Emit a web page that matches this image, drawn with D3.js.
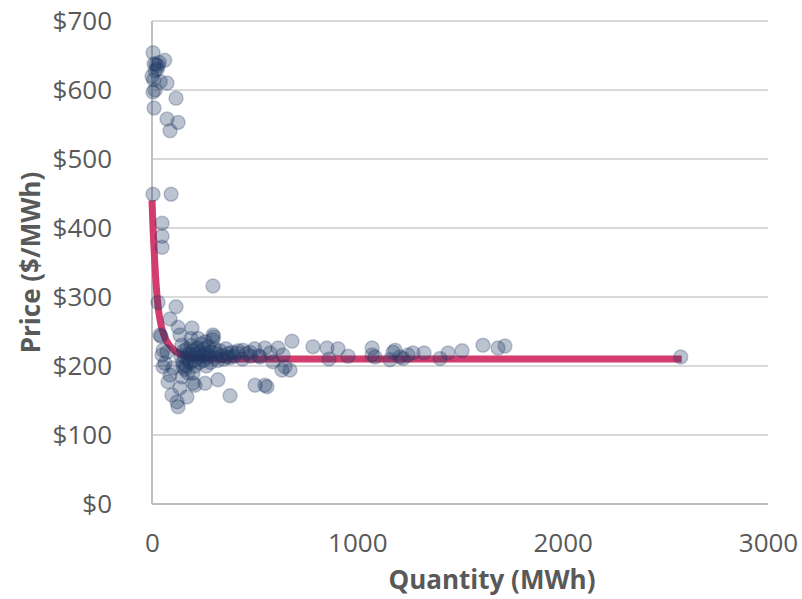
<!DOCTYPE html>
<html>
<head>
<meta charset="utf-8">
<script src="https://cdn.jsdelivr.net/npm/d3@7"></script>
<style>
  body { margin: 0; background: #ffffff; }
  svg { display: block; }
</style>
</head>
<body>
<div id="chart"></div>
<script>
// observed points, quantity (MWh)
const quantity = [
  5, 62, 10, 20, 30, 25, 15, 35, 0, 8, 40, 73, 15, 5, 117, 10, 73, 127, 88,
  5, 93, 49, 49, 49, 29, 117, 297,
  88, 127, 195, 136, 44, 297, 54, 49, 54, 102, 88, 78, 146, 136, 200, 258, 321,
  502, 550, 380, 97, 170, 122, 127, 209, 151, 39, 73, 63,
  140, 150, 155, 160, 165, 170, 175, 180, 185, 190, 195, 200, 205, 210, 215, 220,
  225, 230, 235, 240, 245, 250, 255, 260, 265, 270, 275, 280, 285, 290, 295, 300,
  305, 310, 315, 320, 330, 340, 350, 360, 370, 380, 390, 400, 420, 440, 460, 480,
  500, 520, 160, 175, 200, 145, 190, 225, 260,
  682, 550, 614, 575, 638, 589, 648, 672, 633, 560, 443, 477, 414, 365, 526,
  784, 852, 906, 955, 862, 1072, 1072, 1086, 1159, 1174, 1184, 1208, 1223, 1247,
  1271, 1325, 1403, 1442, 1510, 1612, 1685, 1719, 2575
]
// observed points, price ($/MWh)
const price = [
  654, 643, 638, 637, 635, 630, 628, 640, 620, 615, 612, 610, 600, 597, 588, 574, 558, 553, 541,
  449, 449, 407, 388, 372, 292, 286, 316,
  268, 256, 255, 245, 243, 245, 223, 216, 199, 197, 187, 177, 184, 168, 175, 175, 180,
  172, 172, 157, 158, 155, 148, 141, 172, 199, 245, 220, 204,
  215, 205, 222, 212, 200, 225, 210, 218, 205, 230, 215, 222, 208, 200, 218, 226,
  212, 205, 220, 232, 215, 208, 225, 218, 200, 212, 228, 215, 205, 220, 238, 242,
  225, 212, 218, 208, 222, 215, 210, 225, 218, 212, 220, 214, 222, 210, 218, 214,
  225, 215, 195, 190, 190, 230, 240, 240, 235,
  236, 226, 226, 219, 216, 206, 199, 194, 194, 170, 223, 220, 219, 213, 213,
  228, 226, 225, 214, 210, 226, 216, 213, 209, 220, 223, 213, 211, 216,
  219, 219, 211, 219, 222, 230, 226, 229, 213
]
// fitted curve
const fitQuantity = [0, 5, 10, 20, 30, 45, 60, 80, 100, 130, 170, 250, 400, 1000, 2580]
const fitPrice = [440, 400, 370, 318, 285, 258, 243, 232, 225, 218, 214, 211, 210, 210, 210]

const xTicks = [0, 1000, 2000, 3000]
const yTicks = [0, 100, 200, 300, 400, 500, 600, 700]

const WIDTH = 802
const HEIGHT = 599
const TEXT_COLOR = "#595959"
const GRID_COLOR = "#d9d9d9"
const AXIS_COLOR = "#bfbfbf"
const POINT_COLOR = "#1f3864"
const LINE_COLOR = "#d23d6d"
const FONT = "'Open Sans', sans-serif"

const plot = { left: 152, right: 768, top: 21, bottom: 504 }

const svg = d3.select("#chart").append("svg")
    .attr("width", WIDTH)
    .attr("height", HEIGHT)
    .style("background-color", "white")

const x = d3.scaleLinear().domain([0, 3000]).range([plot.left, plot.right])
const y = d3.scaleLinear().domain([0, 700]).range([plot.bottom, plot.top])

// horizontal gridlines
svg.append("g")
    .selectAll("line")
    .data(yTicks.filter(d => d > 0))
    .join("line")
    .attr("x1", plot.left)
    .attr("x2", plot.right)
    .attr("y1", d => y(d))
    .attr("y2", d => y(d))
    .attr("stroke", GRID_COLOR)
    .attr("stroke-width", 2)

// y axis (labels only, line drawn by hand below)
const yAxis = svg.append("g")
    .attr("transform", "translate(" + plot.left + ",0)")
    .call(d3.axisLeft(y).tickValues(yTicks).tickSize(0).tickPadding(40)
        .tickFormat(d => "$" + d))
yAxis.select(".domain").remove()
yAxis.selectAll("text")
    .attr("fill", TEXT_COLOR)
    .style("font-family", FONT)
    .style("font-size", "26px")

const xAxis = svg.append("g")
    .attr("transform", "translate(0," + plot.bottom + ")")
    .call(d3.axisBottom(x).tickValues(xTicks).tickSize(0).tickPadding(30)
        .tickFormat(d3.format("d")))
xAxis.select(".domain").remove()
xAxis.selectAll("text")
    .attr("fill", TEXT_COLOR)
    .style("font-family", FONT)
    .style("font-size", "26px")

// axis lines
svg.append("line")
    .attr("x1", plot.left).attr("x2", plot.left)
    .attr("y1", plot.top).attr("y2", plot.bottom)
    .attr("stroke", AXIS_COLOR).attr("stroke-width", 2)
svg.append("line")
    .attr("x1", plot.left).attr("x2", plot.right)
    .attr("y1", plot.bottom).attr("y2", plot.bottom)
    .attr("stroke", AXIS_COLOR).attr("stroke-width", 2)

// fitted curve
const fitData = fitQuantity.map((q, i) => [q, fitPrice[i]])
svg.append("path")
    .datum(fitData)
    .attr("d", d3.line().x(d => x(d[0])).y(d => y(d[1])).curve(d3.curveMonotoneX))
    .attr("fill", "none")
    .attr("stroke", LINE_COLOR)
    .attr("stroke-width", 7)

// scatter
const points = quantity.map((q, i) => [q, price[i]])
svg.append("g")
    .selectAll("circle")
    .data(points)
    .join("circle")
    .attr("cx", d => x(d[0]))
    .attr("cy", d => y(d[1]))
    .attr("r", 7)
    .attr("fill", POINT_COLOR)
    .attr("fill-opacity", 0.3)
    .attr("stroke", POINT_COLOR)
    .attr("stroke-opacity", 0.25)
    .attr("stroke-width", 1.5)

// axis titles
svg.append("text")
    .attr("x", 492)
    .attr("y", 589)
    .attr("text-anchor", "middle")
    .attr("fill", TEXT_COLOR)
    .style("font-family", FONT)
    .style("font-size", "26px")
    .style("font-weight", "bold")
    .text("Quantity (MWh)")

svg.append("text")
    .attr("transform", "translate(40," + ((plot.top + plot.bottom) / 2) + ") rotate(-90)")
    .attr("text-anchor", "middle")
    .attr("fill", TEXT_COLOR)
    .style("font-family", FONT)
    .style("font-size", "26px")
    .style("font-weight", "bold")
    .text("Price ($/MWh)")
</script>
</body>
</html>
